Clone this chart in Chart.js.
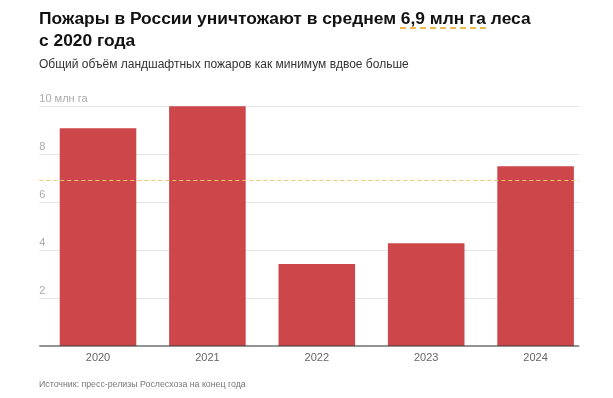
<!DOCTYPE html>
<html><head><meta charset="utf-8">
<script src="https://cdn.jsdelivr.net/npm/chart.js@4/dist/chart.umd.min.js"></script>
<style>
html,body{margin:0;padding:0;background:#fff;width:613px;height:398px;overflow:hidden;font-family:"Liberation Sans",Arial,sans-serif;}
#wrap{position:relative;width:613px;height:398px;}
canvas{position:absolute;left:0;top:0;}
.title{position:absolute;left:39px;top:7px;font-size:17.4px;line-height:22px;font-weight:bold;color:#111;white-space:nowrap;}
.hl{text-decoration:underline dashed #f0b94e;text-decoration-thickness:2px;text-underline-offset:3px;}
.sub{position:absolute;left:39px;top:57px;font-size:12px;line-height:15px;color:#333;white-space:nowrap;}
.src{position:absolute;left:39px;top:378px;font-size:8.8px;line-height:12px;color:#777;white-space:nowrap;}
</style></head>
<body><div id="wrap">
<canvas id="c" width="613" height="398"></canvas>
<div class="title">Пожары в России уничтожают в среднем <span class="hl">6,9 млн га</span> леса<br>с 2020 года</div>
<div class="sub">Общий объём ландшафтных пожаров как минимум вдвое больше</div>
<div class="src">Источник: пресс-релизы Рослесхоза на конец года</div>
</div>
<script>
const years = ['2020','2021','2022','2023','2024'];
const burned = [9.06, 9.98, 3.41, 4.28, 7.48];
const average = 6.9;
const yTicks = [0, 2, 4, 6, 8, 10];
const yUnit = ' млн га';

const guides = {
  id: 'guides',
  beforeDatasetsDraw(chart) {
    const {ctx, chartArea, scales: {y}} = chart;
    const x0 = chartArea.left - 4, x1 = chartArea.right - 11;
    ctx.save();
    ctx.strokeStyle = '#e6e6e6';
    ctx.lineWidth = 1;
    yTicks.filter(v => v > 0).forEach(v => {
      const py = Math.round(y.getPixelForValue(v)) + 0.5;
      ctx.beginPath(); ctx.moveTo(x0, py); ctx.lineTo(x1, py); ctx.stroke();
    });
    ctx.restore();
  },
  afterDatasetsDraw(chart) {
    const {ctx, chartArea, scales: {y}} = chart;
    const x0 = chartArea.left - 4, x1 = chartArea.right - 11;
    ctx.save();
    ctx.strokeStyle = '#f2c777';
    ctx.lineWidth = 1;
    ctx.setLineDash([4, 3]);
    const ay = Math.round(y.getPixelForValue(average)) + 0.5;
    ctx.beginPath(); ctx.moveTo(x0, ay); ctx.lineTo(x1, ay); ctx.stroke();
    ctx.setLineDash([]);
    ctx.strokeStyle = 'rgba(60,60,60,0.55)';
    ctx.lineWidth = 2;
    const by = y.getPixelForValue(0);
    ctx.beginPath(); ctx.moveTo(x0, by); ctx.lineTo(x1, by); ctx.stroke();
    ctx.restore();
  }
};

new Chart(document.getElementById('c'), {
  type: 'bar',
  data: {
    labels: years,
    datasets: [{
      data: burned,
      backgroundColor: '#cc464a',
      borderWidth: 0,
      categoryPercentage: 1,
      barPercentage: 0.7
    }]
  },
  options: {
    responsive: false,
    animation: false,
    devicePixelRatio: 1,
    layout: { padding: { left: 43.3, right: 22.7, top: 105.7, bottom: 0 } },
    plugins: { legend: { display: false }, tooltip: { enabled: false } },
    scales: {
      x: {
        grid: { display: false, drawTicks: false },
        border: { display: false },
        afterFit(s) { s.height = 52; },
        ticks: { color: '#666', font: { family: 'Liberation Sans', size: 11 }, padding: 5, maxRotation: 0 }
      },
      y: {
        min: 0, max: 10,
        afterFit(s) { s.width = 0; },
        afterBuildTicks(s) { s.ticks = yTicks.map(v => ({ value: v })); },
        grid: { display: false, drawTicks: false },
        border: { display: false },
        ticks: {
          mirror: true,
          padding: -4,
          labelOffset: -7,
          color: '#aaa',
          font: { family: 'Liberation Sans', size: 11 },
          callback: v => v === 0 ? '' : (v === 10 ? v + yUnit : String(v))
        }
      }
    }
  },
  plugins: [guides]
});
</script>
</body></html>
